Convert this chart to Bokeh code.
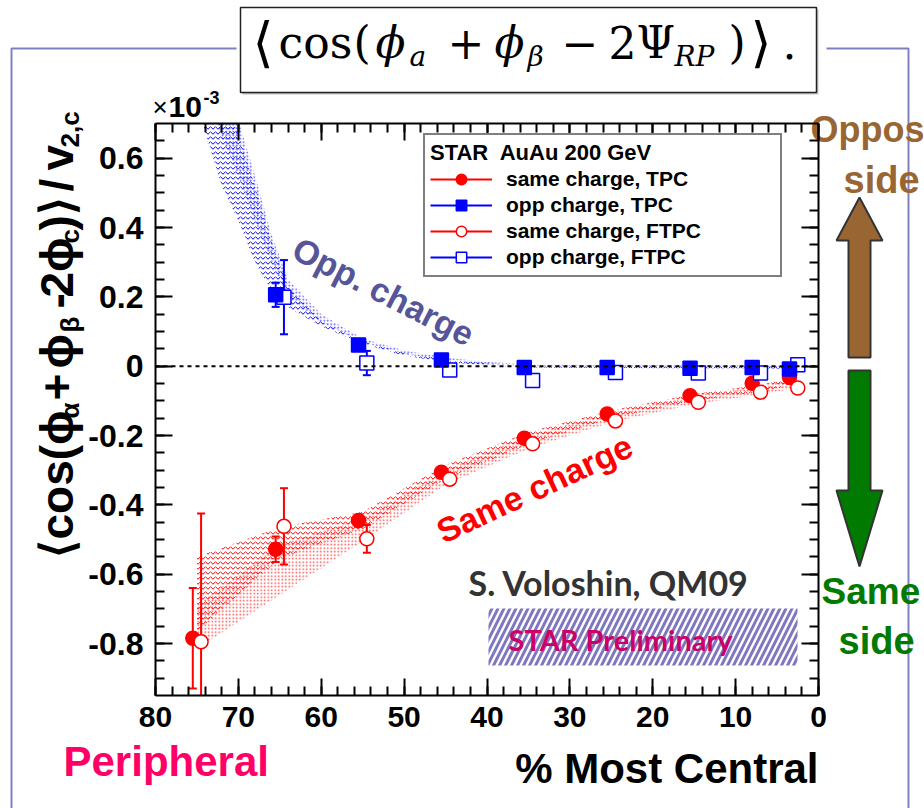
from bokeh.plotting import figure
from bokeh.models import (Range1d, LinearAxis, SingleIntervalTicker, Label, BoxAnnotation,
                          ColumnDataSource, Legend, LegendItem, Span, CustomJSTickFormatter,
                          GridBox)
from bokeh.embed import file_html
from bokeh.resources import INLINE

# ---------------- data (x 1e-3) ----------------
cent_tpc = [75.5, 65.5, 55.5, 45.5, 35.5, 25.5, 15.5, 8.0, 3.5]
cent_ftpc = [74.5, 64.5, 54.5, 44.5, 34.5, 24.5, 14.5, 7.0, 2.5]

same_tpc = [-0.785, -0.528, -0.445, -0.306, -0.208, -0.138, -0.085, -0.049, -0.033]
same_tpc_err = [0.145, 0.037, 0.015, 0.010, 0.008, 0.006, 0.005, 0.005, 0.005]
same_ftpc = [-0.795, -0.462, -0.498, -0.326, -0.224, -0.158, -0.104, -0.075, -0.063]
same_ftpc_err = [0.370, 0.110, 0.040, 0.015, 0.010, 0.008, 0.006, 0.006, 0.006]

opp_cent_tpc = [65.5, 55.5, 45.5, 35.5, 25.5, 15.5, 8.0, 3.5]
opp_cent_ftpc = [64.5, 54.5, 44.5, 34.5, 24.5, 14.5, 7.0, 2.5]
opp_tpc = [0.206, 0.061, 0.018, -0.004, -0.004, -0.006, -0.004, -0.008]
opp_tpc_err = [0.035, 0.008, 0.006, 0.005, 0.005, 0.005, 0.005, 0.005]
opp_ftpc = [0.199, 0.009, -0.011, -0.041, -0.018, -0.020, -0.020, 0.004]
opp_ftpc_err = [0.107, 0.035, 0.010, 0.010, 0.008, 0.008, 0.008, 0.008]

# systematic-uncertainty bands
same_band_x = [75, 65, 55, 45, 35, 25, 15, 7.5, 3]
same_wave_hi = [-0.55, -0.465, -0.42, -0.285, -0.19, -0.128, -0.08, -0.055, -0.035]
same_wave_lo = [-0.765, -0.555, -0.47, -0.325, -0.225, -0.15, -0.10, -0.075, -0.055]
same_dot_hi = [-0.69, -0.515, -0.44, -0.30, -0.20, -0.135, -0.085, -0.06, -0.04]
same_dot_lo = [-0.815, -0.66, -0.505, -0.342, -0.238, -0.162, -0.11, -0.083, -0.065]

opp_band_x = [76, 74, 72, 70, 68, 66, 64, 60, 55, 50, 45, 40, 35, 25, 15, 7.5, 3]
opp_wave_lo = [0.84, 0.675, 0.52, 0.42, 0.30, 0.22, 0.17, 0.115, 0.065, 0.03, 0.012, 0.002,
               -0.004, -0.005, -0.006, -0.006, -0.008]
opp_wave_hi = [1.05, 0.92, 0.79, 0.67, 0.52, 0.36, 0.23, 0.13, 0.072, 0.038, 0.02, 0.008,
               0.003, 0.002, 0.001, 0.0, -0.002]
opp_dot_lo = [0.95, 0.80, 0.66, 0.55, 0.42, 0.30, 0.20, 0.125, 0.07, 0.035, 0.016, 0.006,
              0.0, 0.0, -0.001, -0.002, -0.004]
opp_dot_hi = [1.10, 0.97, 0.83, 0.71, 0.55, 0.38, 0.25, 0.15, 0.08, 0.045, 0.025, 0.012,
              0.006, 0.004, 0.003, 0.002, 0.0]

legend_title = "STAR  AuAu 200 GeV"
legend_labels = ["same charge, TPC", "opp charge, TPC", "same charge, FTPC", "opp charge, FTPC"]

# ---------------- page geometry ----------------
W, H = 924, 808
FL, FR, FT, FB = 155, 818, 123, 695
XS, XE = 80.0, 0.0
YS, YE = -0.95, 0.70


def dx(px):
    return XS + (px - FL) * (XE - XS) / (FR - FL)


def dy(py):
    return YE + (py - FT) * (YS - YE) / (FB - FT)


FONT = "Liberation Sans"
SERIF = "DejaVu Serif"
RED, BLUE = "#ff0000", "#0000ff"
BROWN, GREEN = "#996633", "#007a00"

# ---------------- page layer (frame, title box, side captions) ----------------
bg = figure(width=W, height=H, x_range=Range1d(0, W), y_range=Range1d(H, 0),
            output_backend="svg", toolbar_location=None, min_border=0,
            x_axis_location=None, y_axis_location=None)
bg.frame_align = False
bg.outline_line_color = None
bg.grid.visible = False
bg.background_fill_color = "white"
bg.border_fill_color = "white"


def put(fig, px, py, text, size, color="black", align="left", baseline="middle",
        font=FONT, style="bold", angle=0):
    fig.add_layout(Label(x=px, y=py, text=text, text_font=font, text_font_style=style,
                         text_font_size=size, text_color=color, text_align=align,
                         text_baseline=baseline, angle=angle, angle_units="deg"))


# lavender page frame, interrupted by the formula box
bg.line(x=[11, 11, 236], y=[H + 5, 48, 48], line_color="#8080c0", line_width=2)
bg.line(x=[826, 908, 908], y=[48, 48, H + 5], line_color="#8080c0", line_width=2)
bg.quad(left=242, right=818, top=9, bottom=94, fill_color="#c4c4c4", line_color=None)
bg.quad(left=240, right=816, top=7, bottom=92, fill_color="white", line_color="#222222",
        line_width=1.5)
# <cos(phi_a + phi_beta - 2 Psi_RP)>.  set piece by piece
for text, px, kind, style in [("\u27e8", 252, "big", "normal"), ("cos", 278, "main", "normal"),
                              ("(", 353, "main", "normal"), ("\u03d5", 375, "main", "italic"),
                              ("a", 409, "sub", "italic"), ("+", 447, "main", "normal"),
                              ("\u03d5", 494, "main", "italic"), ("\u03b2", 527, "sub", "italic"),
                              ("\u2212", 561, "main", "normal"), ("2", 608, "main", "normal"),
                              ("\u03a8", 636, "main", "normal"), ("RP", 674, "sub", "italic"),
                              (")", 728, "main", "normal"), ("\u27e9", 750, "big", "normal"),
                              (".", 782, "main", "normal")]:
    size = {"big": "54px", "main": "44px", "sub": "28px"}[kind]
    put(bg, px, 56 if kind == "sub" else 42, text, size, font=SERIF, style=style)

# exponent above the y axis
put(bg, 152, 106, "\u00d7", "26px", style="normal")
put(bg, 168, 106, "10", "30px")
put(bg, 203, 97, "-3", "18px")

# y-axis title built from rotated pieces
for text, py, sub in [("\u27e8cos(\u03d5", 557, False), ("\u03b1", 418, True),
                      ("+", 400, False), ("\u03d5", 368, False), ("\u03b2", 332, True),
                      ("-", 308, False), ("2\u03d5", 297, False), ("c", 243, True),
                      (")\u27e9", 230, False), ("/", 191, False), ("v", 170, False),
                      ("2,c", 147, True)]:
    put(bg, 69 if sub else 56, py, text, "26px" if sub else "46px", angle=90)

# x-axis captions
put(bg, FR, 768, "% Most Central", "42px", "black", "right")
put(bg, 63, 761, "Peripheral", "42px", "#ff0066", "left")

# side arrows and captions
put(bg, 810, 129, "Oppos", "36px", BROWN)
put(bg, 843, 179, "side", "38px", BROWN)
bg.patch(x=[859, 882, 870, 870, 848, 848, 836], y=[197, 240, 240, 357, 357, 240, 240],
         fill_color=BROWN, line_color="#333333", line_width=2)
bg.patch(x=[848, 870, 870, 882, 859, 836, 848], y=[370, 370, 490, 490, 566, 490, 490],
         fill_color=GREEN, line_color="#333333", line_width=2)
put(bg, 821, 591, "Same", "37px", GREEN)
put(bg, 838, 640, "side", "38px", GREEN)

# ---------------- chart layer ----------------
p = figure(width=W, height=H, x_range=Range1d(XS, XE), y_range=Range1d(YS, YE),
           output_backend="svg", toolbar_location=None,
           min_border_left=FL, min_border_right=W - FR, min_border_top=FT,
           min_border_bottom=H - FB)
p.frame_align = False
p.outline_line_color = None
p.grid.visible = False
p.background_fill_color = None
p.border_fill_color = None

xt = SingleIntervalTicker(interval=10, num_minor_ticks=5)
yt = SingleIntervalTicker(interval=0.2, num_minor_ticks=4)
blank = CustomJSTickFormatter(code="return ''")

p.add_layout(LinearAxis(ticker=xt, formatter=blank), "above")
p.add_layout(LinearAxis(ticker=yt, formatter=blank), "right")
p.xaxis[1].ticker = xt
p.xaxis[1].formatter = CustomJSTickFormatter(code="return tick.toFixed(0)")
p.yaxis[0].ticker = yt
p.yaxis[0].formatter = CustomJSTickFormatter(
    code="return Math.abs(tick) < 1e-9 ? '0' : tick.toFixed(1)")

for ax in p.axis:
    ax.axis_line_width = 2
    ax.axis_line_color = "black"
    ax.major_tick_in = 17
    ax.major_tick_out = 0
    ax.minor_tick_in = 9
    ax.minor_tick_out = 0
    ax.major_tick_line_width = 2
    ax.minor_tick_line_width = 2
    ax.major_label_text_font = FONT
    ax.major_label_text_font_style = "bold"
    ax.major_label_text_font_size = "30px"
    ax.major_label_text_color = "black"
p.yaxis[0].major_label_text_font_size = "32px"
p.xaxis[1].major_label_standoff = 11
p.yaxis[0].major_label_standoff = 12

p.add_layout(Span(location=0, dimension="width", line_color="black", line_width=2,
                  line_dash="4 4"))

# systematic bands
p.varea(x=same_band_x, y1=same_dot_lo, y2=same_dot_hi, fill_color=None,
        hatch_pattern="dot", hatch_color=RED, hatch_alpha=0.7, hatch_scale=3.5, hatch_weight=1)
p.varea(x=same_band_x, y1=same_wave_lo, y2=same_wave_hi, fill_color=None,
        hatch_pattern="horizontal_wave", hatch_color=RED, hatch_alpha=1.0, hatch_scale=5,
        hatch_weight=1)
p.varea(x=opp_band_x, y1=opp_dot_lo, y2=opp_dot_hi, fill_color=None,
        hatch_pattern="dot", hatch_color=BLUE, hatch_alpha=0.7, hatch_scale=3.5, hatch_weight=1)
p.varea(x=opp_band_x, y1=opp_wave_lo, y2=opp_wave_hi, fill_color=None,
        hatch_pattern="horizontal_wave", hatch_color=BLUE, hatch_alpha=1.0, hatch_scale=5,
        hatch_weight=1)


def series(xs, ys, errs, color, marker, filled):
    lo = [y - e for y, e in zip(ys, errs)]
    hi = [y + e for y, e in zip(ys, errs)]
    src = ColumnDataSource(dict(x=xs, y=ys, lo=lo, hi=hi))
    p.segment(x0="x", y0="lo", x1="x", y1="hi", source=src, line_color=color, line_width=2)
    p.scatter(x="x", y="lo", source=src, marker="dash", size=8, line_color=color, line_width=2)
    p.scatter(x="x", y="hi", source=src, marker="dash", size=8, line_color=color, line_width=2)
    pts = p.scatter(x="x", y="y", source=src, marker=marker, size=14, line_color=color,
                    line_width=1.5, fill_color=color if filled else "white")
    # line sample shown only in the legend entry
    ln = p.line(x="x", y="y", source=src, line_color=color, line_width=2, visible=False)
    return pts, ln


r_same_tpc = series(cent_tpc, same_tpc, same_tpc_err, RED, "circle", True)
r_same_ftpc = series(cent_ftpc, same_ftpc, same_ftpc_err, RED, "circle", False)
r_opp_ftpc = series(opp_cent_ftpc, opp_ftpc, opp_ftpc_err, BLUE, "square", False)
r_opp_tpc = series(opp_cent_tpc, opp_tpc, opp_tpc_err, BLUE, "square", True)

legend = Legend(items=[
    LegendItem(label=legend_labels[0], renderers=[r_same_tpc[1], r_same_tpc[0]]),
    LegendItem(label=legend_labels[1], renderers=[r_opp_tpc[1], r_opp_tpc[0]]),
    LegendItem(label=legend_labels[2], renderers=[r_same_ftpc[1], r_same_ftpc[0]]),
    LegendItem(label=legend_labels[3], renderers=[r_opp_ftpc[1], r_opp_ftpc[0]]),
], title=legend_title, location=(423 - FL, FB - 277))
legend.title_text_font = FONT
legend.title_text_font_style = "bold"
legend.title_text_font_size = "22px"
legend.title_text_color = "black"
legend.title_standoff = 0
legend.label_text_font = FONT
legend.label_text_font_style = "bold"
legend.label_text_font_size = "21px"
legend.label_text_color = "black"
legend.label_height = 26
legend.glyph_height = 26
legend.glyph_width = 62
legend.label_standoff = 14
legend.label_width = 269
legend.spacing = 0
legend.padding = 5
legend.margin = 0
legend.border_line_color = "black"
legend.border_line_width = 2
legend.background_fill_alpha = 1
p.add_layout(legend, "center")

# in-frame annotations
put(p, dx(383), dy(291), "Opp. charge", "34px", "#57559a", "center", angle=-27)
put(p, dx(534), dy(488), "Same charge", "34px", RED, "center", angle=25)
put(p, dx(468), dy(582), "S. Voloshin, QM09", "34px", "#333333", "left", font="Lato")
p.add_layout(BoxAnnotation(left=dx(488), right=dx(797), top=dy(608), bottom=dy(665),
                           fill_color=None, line_color=None, hatch_pattern="right_diagonal_line",
                           hatch_color="#7f78c0", hatch_weight=3, hatch_scale=12))
put(p, dx(508), dy(639), "STAR Preliminary", "29px", "#cc0066", "left", font="Lato")

page = GridBox(children=[(bg, 0, 0), (p, 0, 0)])
open("out.html", "w").write(file_html(page, INLINE))
